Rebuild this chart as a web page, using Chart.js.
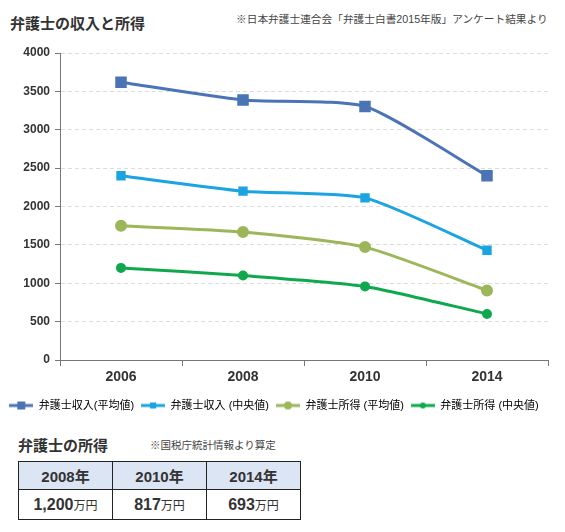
<!DOCTYPE html>
<html>
<head>
<meta charset="utf-8">
<script src="https://cdn.jsdelivr.net/npm/chart.js@4.4.1/dist/chart.umd.min.js"></script>
<style>
body { margin: 0; background: #fff; font-family: "Liberation Sans", "Noto Sans CJK JP", sans-serif; color: #333; }
#page { position: relative; width: 565px; height: 532px; overflow: hidden; }
.title { position: absolute; font-weight: bold; font-size: 15px; color: #333; }
.note { position: absolute; font-size: 10.7px; color: #444; }
#box { position: absolute; left: 0; top: 40px; width: 565px; height: 381px; }
table { position: absolute; left: 18px; top: 461px; border-collapse: collapse; }
td { border: 1px solid #222; width: 93px; text-align: center; font-weight: bold; font-size: 15px; color: #333; padding: 0; }
tr.head td { background: #dbe5f4; height: 27px; }
tr.val td { height: 29px; font-size: 16px; }
td small { font-size: 12px; font-weight: normal; }
</style>
</head>
<body>
<div id="page">
  <div class="title" style="left:10px;top:12px;">弁護士の収入と所得</div>
  <div class="note" style="left:236px;top:11px;">※日本弁護士連合会「弁護士白書2015年版」アンケート結果より</div>
  <div id="box"><canvas id="c"></canvas></div>
  <div class="title" style="left:18px;top:434px;">弁護士の所得</div>
  <div class="note" style="left:150px;top:437px;font-size:10.5px;">※国税庁統計情報より算定</div>
  <table>
    <tr class="head"><td>2008年</td><td>2010年</td><td>2014年</td></tr>
    <tr class="val"><td>1,200<small>万円</small></td><td>817<small>万円</small></td><td>693<small>万円</small></td></tr>
  </table>
</div>
<script>
// data
var years = ['2006', '2008', '2010', '2014'];
var incomeAvg = [3620, 3389, 3304, 2402];
var incomeMed = [2400, 2200, 2112, 1430];
var earnAvg = [1748, 1667, 1471, 907];
var earnMed = [1200, 1100, 959, 600];
var names = ['弁護士収入(平均値)', '弁護士収入 (中央値)', '弁護士所得 (平均値)', '弁護士所得 (中央値)'];
var colors = ['#4a74b5', '#1ba3e2', '#9bb75a', '#0fa84c'];
var shapes = ['rect', 'rect', 'circle', 'circle'];
var sizes = [6, 4.5, 4.5, 3.5];

// little legend icon: line with marker
function icon(i) {
    var cv = document.createElement('canvas');
    cv.width = 24; cv.height = 12;
    var g = cv.getContext('2d');
    g.strokeStyle = colors[i]; g.fillStyle = colors[i]; g.lineWidth = 3;
    g.beginPath(); g.moveTo(0, 6); g.lineTo(24, 6); g.stroke();
    if (shapes[i] == 'rect') {
        var s = i == 0 ? 8 : 6;
        g.fillRect(12 - s / 2, 6 - s / 2, s, s);
    } else {
        g.beginPath(); g.arc(12, 6, i == 2 ? 4 : 3, 0, Math.PI * 2); g.fill();
    }
    return cv;
}

var all = [incomeAvg, incomeMed, earnAvg, earnMed];
var sets = [];
for (let i = 0; i < 4; i++) {
    sets.push({
        label: names[i],
        data: all[i],
        borderColor: colors[i],
        backgroundColor: colors[i],
        borderWidth: 3,
        pointStyle: shapes[i],
        pointRadius: sizes[i],
        pointHoverRadius: sizes[i],
        tension: 0.2
    });
}

var fam = '"Liberation Sans", "Noto Sans CJK JP", sans-serif';

new Chart('c', {
    type: 'line',
    data: { labels: years, datasets: sets },
    options: {
        responsive: true,
        maintainAspectRatio: false,
        animation: false,
        layout: { padding: { top: 13, right: 17, left: 0, bottom: 0 } },
        plugins: {
            tooltip: { enabled: false },
            legend: {
                position: 'bottom',
                labels: {
                    usePointStyle: true,
                    pointStyleWidth: 24,
                    padding: 7,
                    color: '#333',
                    font: { family: fam, size: 11 },
                    generateLabels: function (chart) {
                        return names.map(function (n, i) {
                            return { text: n, pointStyle: icon(i), datasetIndex: i, fillStyle: colors[i], strokeStyle: colors[i], lineWidth: 0 };
                        });
                    }
                }
            }
        },
        scales: {
            x: {
                offset: true,
                grid: { offset: true, drawOnChartArea: false, drawTicks: true, tickLength: 6, color: '#777' },
                border: { color: '#777', width: 1 },
                ticks: { color: '#333', font: { family: fam, size: 14, weight: 'bold' }, padding: 3 },
                afterFit: function (s) { s.height = 33; }
            },
            y: {
                min: 0, max: 4000,
                ticks: {
                    stepSize: 500, color: '#333', font: { family: fam, size: 12, weight: 'bold' }, padding: 5,
                    callback: function (v) { return String(v); }
                },
                grid: { color: '#ddd', tickColor: '#777', tickLength: 5 },
                border: { color: '#777', width: 1, dash: [4, 3] },
                afterFit: function (s) { s.width = 60; }
            }
        }
    }
});
</script>
</body>
</html>
